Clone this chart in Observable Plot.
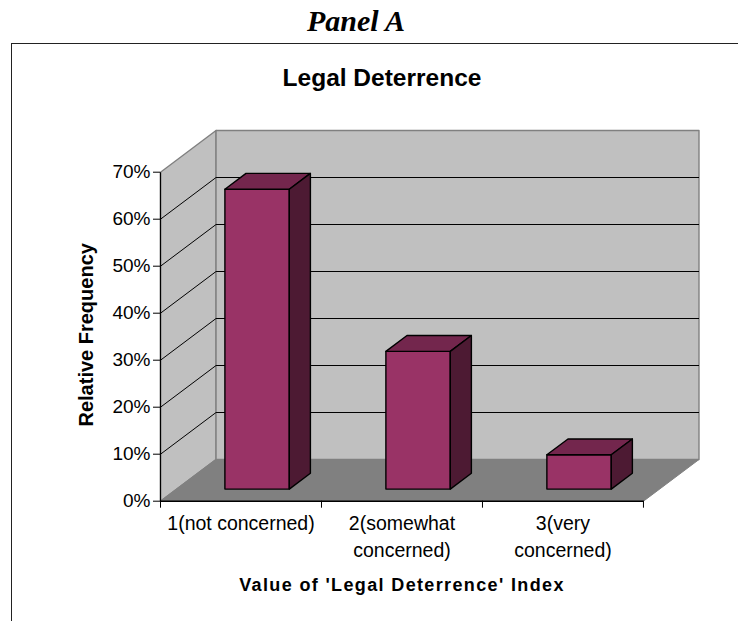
<!DOCTYPE html>
<html>
<head>
<meta charset="utf-8">
<script src="https://cdn.jsdelivr.net/npm/d3@7"></script>
<script src="https://cdn.jsdelivr.net/npm/@observablehq/plot@0.6"></script>
<style>
html,body{margin:0;padding:0;background:#fff;width:738px;height:621px;overflow:hidden}
#panel{position:absolute;left:0;top:4px;width:712px;text-align:center;font:italic bold 30px "Liberation Serif",serif;color:#000}
#box{position:absolute;left:11px;top:43px;width:727px;height:578px;border-left:1px solid #222;border-top:1px solid #222;box-sizing:border-box}
#chart{position:absolute;left:0;top:44px}
svg{display:block;background:transparent!important}
.x-title text{letter-spacing:1.36px}
</style>
</head>
<body>
<div id="panel">Panel A</div>
<div id="box"></div>
<div id="chart"></div>
<script>
const categories = ["1(not concerned)", "2(somewhat\nconcerned)", "3(very\nconcerned)"];
const values = [63.8, 29.3, 7.3];
const percentTicks = [0, 10, 20, 30, 40, 50, 60, 70];
const gridLevels = [10, 20, 30, 40, 50, 60];
const categoryEdges = [0, 1, 2, 3];
const chartTitle = "Legal Deterrence";
const yTitle = "Relative Frequency";
const xTitle = "Value of 'Legal Deterrence' Index";

// oblique projection of the 3-D box, in data units
const depthX = 0.345, depthY = 8.87;
const yMax = 70, xMax = categories.length;
const P = ([c, v, d]) => ({x: c + d * depthX, y: v + d * depthY});
const face = (corners, fill, stroke, strokeWidth) =>
  Plot.line(corners.map(P), {x: "x", y: "y", curve: "linear-closed", fill, stroke, strokeWidth});

const barFront = "#993366", barTop = "#73264D", barSide = "#4D1A33";
const barFaces = values.flatMap((v, i) => {
  const a = i + 0.3, b = i + 0.7, d0 = 0.29, d1 = 0.67;
  return [
    face([[a,0,d0],[a,v,d0],[b,v,d0],[b,0,d0]], barFront, "#000", 1.4),
    face([[a,v,d0],[a,v,d1],[b,v,d1],[b,v,d0]], barTop, "#000", 1.4),
    face([[b,0,d0],[b,v,d0],[b,v,d1],[b,0,d1]], barSide, "#000", 1.4)
  ];
});

const sans = "'Liberation Sans', Arial, sans-serif";
const chart = Plot.plot({
  width: 738, height: 577,
  marginLeft: 160, marginRight: 39.5, marginTop: 86, marginBottom: 120.3,
  style: {background: "transparent", fontFamily: sans, color: "#000"},
  x: {domain: [0, xMax + depthX], axis: null},
  y: {domain: [0, yMax + depthY], axis: null},
  marks: [
    face([[0,0,0],[0,yMax,0],[0,yMax,1],[0,0,1]], "#C0C0C0", "#808080", 1.4),
    face([[0,0,1],[0,yMax,1],[xMax,yMax,1],[xMax,0,1]], "#C0C0C0", "#808080", 1.4),
    face([[0,0,0],[xMax,0,0],[xMax,0,1],[0,0,1]], "#808080", "#808080", 1),
    Plot.link(gridLevels, {x1: () => 0, x2: () => depthX, y1: d => d, y2: d => d + depthY, stroke: "#000", strokeWidth: 1}),
    Plot.link(gridLevels, {x1: () => depthX, x2: () => xMax + depthX, y1: d => d + depthY, y2: d => d + depthY, stroke: "#000", strokeWidth: 1}),
    Plot.link([0], {x1: () => 0, x2: () => xMax, y1: () => 0, y2: () => 0, stroke: "#000", strokeWidth: 1.4}),
    Plot.link([0], {x1: () => 0, x2: () => 0, y1: () => 0, y2: () => yMax, stroke: "#000", strokeWidth: 1.2}),
    ...barFaces,
    Plot.axisY(percentTicks, {anchor: "left", tickSize: 7, tickPadding: 3, tickFormat: d => d + "%", fontSize: 19, label: null, stroke: "#000", color: "#000"}),
    Plot.axisX(categoryEdges, {anchor: "bottom", tickSize: 7, tickFormat: () => "", label: null, stroke: "#000"}),
    Plot.text(categories, {x: (d, i) => i + 0.5, y: () => 0, dy: 10, text: d => d, lineAnchor: "top", lineHeight: 1.37, fontSize: 19.5, fill: "#000"}),
    Plot.text([chartTitle], {x: () => 1.5, y: () => yMax + depthY, dx: -20, dy: -52.6, fontSize: 24.5, fontWeight: "bold", fill: "#000"}),
    Plot.text([yTitle], {x: () => 0, y: () => 35.4, dx: -74, rotate: -90, fontSize: 20, fontWeight: "bold", fill: "#000"}),
    Plot.text([xTitle], {x: () => 1.5, y: () => 0, dy: 84.4, fontSize: 18, fontWeight: "bold", fill: "#000", className: "x-title"})
  ]
});
document.getElementById("chart").append(chart);
</script>
</body>
</html>
